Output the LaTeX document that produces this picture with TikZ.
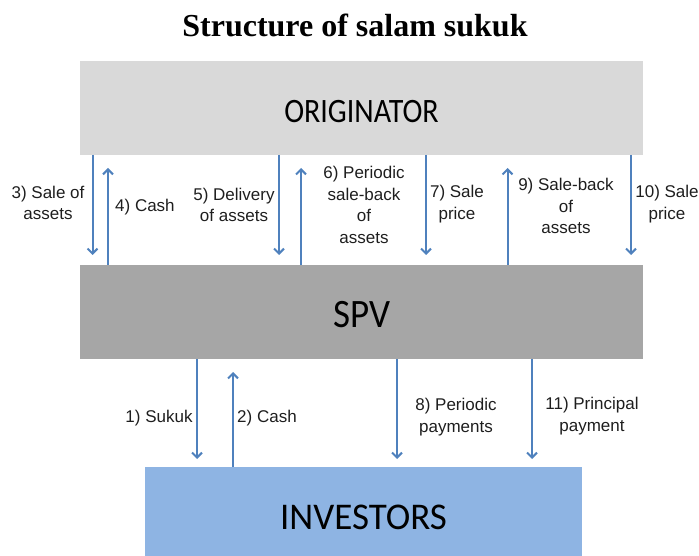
\documentclass[tikz,border=0pt]{standalone}
\usepackage{graphicx}
\usepackage{fontspec}
\setmainfont{Liberation Sans}
\newfontfamily\titlefont{Liberation Serif}
\newfontfamily\boxfont{Carlito}
\usetikzlibrary{arrows.meta}
\definecolor{origfill}{HTML}{D9D9D9}
\definecolor{spvfill}{HTML}{A6A6A6}
\definecolor{invfill}{HTML}{8EB4E3}
\definecolor{flowblue}{HTML}{4F81BD}
\definecolor{labelink}{HTML}{1E1E1E}
% box caption: lowered by #1, stretched vertically by #2
\newcommand{\partytext}[3]{\raisebox{#1}[0pt][0pt]{\scalebox{1}[#2]{#3}}}
\begin{document}
\begin{tikzpicture}[x=1pt,y=-1pt,
  party/.style={inner sep=0pt, outer sep=0pt, draw=none, text=black,
    font=\boxfont},
  flow/.style={draw=flowblue, line width=2pt,
    -{Straight Barb[length=5pt,width=10pt]}},
  lbl/.style={align=center, inner sep=0pt, text=labelink,
    font=\fontsize{17}{21.5}\selectfont}
]
\useasboundingbox (0,0) rectangle (699,556);

% title
\node[font=\titlefont\bfseries\fontsize{32}{36}\selectfont] (title) at (355,25.5)
  {Structure of salam sukuk};

% the three parties
\node[party, fill=origfill, minimum width=563pt, minimum height=94pt,
  font=\boxfont\fontsize{30}{36}\selectfont] (orig) at (361.5,108)
  {\partytext{-14.3pt}{1.14}{ORIGINATOR}};
\node[party, fill=spvfill, minimum width=563pt, minimum height=94pt,
  font=\boxfont\fontsize{37}{44}\selectfont] (spv) at (361.5,312)
  {\partytext{-15.7pt}{1.09}{SPV}};
\node[party, fill=invfill, minimum width=437pt, minimum height=89pt,
  font=\boxfont\fontsize{37}{44}\selectfont] (inv) at (363.5,511.5)
  {\partytext{-17.5pt}{1.02}{INVESTORS}};

% arrow tips between originator and SPV
\coordinate (t3) at (92.5,255);
\coordinate (t4) at (108,168);
\coordinate (t5) at (279,255);
\coordinate (t6) at (301,168);
\coordinate (t7) at (426,255);
\coordinate (t9) at (507.5,168);
\coordinate (t10) at (631,255);
% arrow tips between SPV and investors
\coordinate (t1) at (197,459);
\coordinate (t2) at (233,372);
\coordinate (t8) at (397,459);
\coordinate (t11) at (532,459);

\draw[flow] (orig.south -| t3) -- (t3);
\draw[flow] (spv.north -| t4) -- (t4);
\draw[flow] (orig.south -| t5) -- (t5);
\draw[flow] (spv.north -| t6) -- (t6);
\draw[flow] (orig.south -| t7) -- (t7);
\draw[flow] (spv.north -| t9) -- (t9);
\draw[flow] (orig.south -| t10) -- (t10);

\draw[flow] (spv.south -| t1) -- (t1);
\draw[flow] (inv.north -| t2) -- (t2);
\draw[flow] (spv.south -| t8) -- (t8);
\draw[flow] (spv.south -| t11) -- (t11);

% step labels
\node[lbl] (l3) at (48,203) {3) Sale of\\assets};
\node[lbl, anchor=west] (l4) at (115,207) {4) Cash};
\node[lbl] (l5) at (234,205) {5) Delivery\\of assets};
\node[lbl] (l6) at (364,205) {6) Periodic\\sale-back\\of\\assets};
\node[lbl] (l7) at (457,204) {7) Sale\\price};
\node[lbl] (l9) at (566,206) {9) Sale-back\\of\\assets};
\node[lbl] (l10) at (667,204) {10) Sale\\price};

\node[lbl] (l1) at (159,418) {1) Sukuk};
\node[lbl, anchor=west] (l2) at (237,418) {2) Cash};
\node[lbl] (l8) at (456,417) {8) Periodic\\payments};
\node[lbl] (l11) at (592,416) {11) Principal\\payment};
\end{tikzpicture}
\end{document}
